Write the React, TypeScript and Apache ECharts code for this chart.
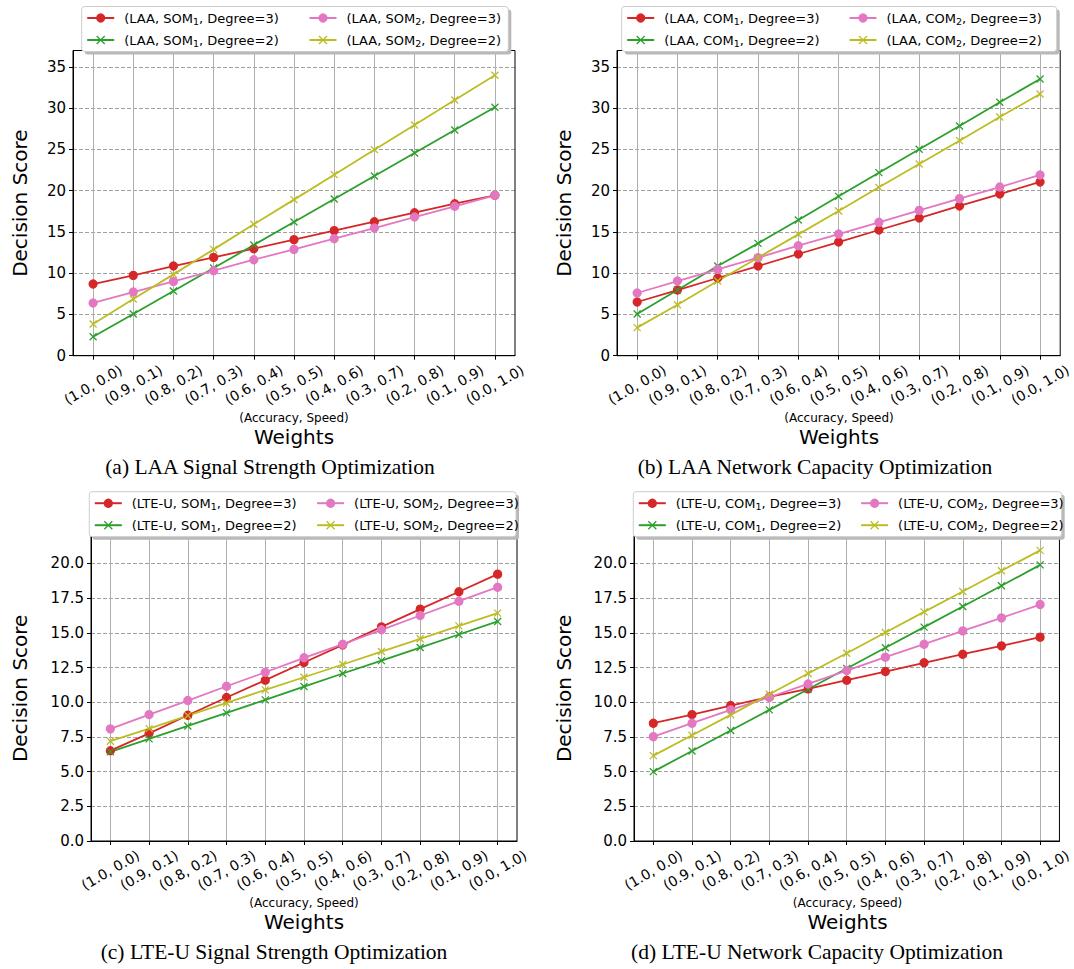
import React, { useEffect, useRef } from 'react';
import * as echarts from 'echarts';

const weights = ['(1.0, 0.0)', '(0.9, 0.1)', '(0.8, 0.2)', '(0.7, 0.3)', '(0.6, 0.4)', '(0.5, 0.5)', '(0.4, 0.6)', '(0.3, 0.7)', '(0.2, 0.8)', '(0.1, 0.9)', '(0.0, 1.0)'];

const ticksLAA = [0, 5, 10, 15, 20, 25, 30, 35];
const ticksLTE = [0, 2.5, 5, 7.5, 10, 12.5, 15, 17.5, 20];

// (a) LAA signal strength
const laaSom1Deg3 = [8.69, 9.74, 10.87, 11.92, 12.97, 14.07, 15.16, 16.25, 17.34, 18.43, 19.44];
const laaSom1Deg2 = [2.3, 5.05, 7.84, 10.63, 13.42, 16.21, 19.0, 21.79, 24.58, 27.36, 30.11];
const laaSom2Deg3 = [6.39, 7.72, 9.01, 10.31, 11.64, 12.89, 14.19, 15.48, 16.81, 18.11, 19.44];
const laaSom2Deg2 = [3.84, 6.87, 9.86, 12.89, 15.93, 18.92, 21.95, 24.98, 27.97, 31.0, 33.99];
// (b) LAA network capacity
const laaCom1Deg3 = [6.51, 7.96, 9.42, 10.87, 12.33, 13.78, 15.24, 16.69, 18.15, 19.6, 21.06];
const laaCom1Deg2 = [5.05, 7.96, 10.87, 13.62, 16.45, 19.32, 22.19, 25.02, 27.85, 30.72, 33.55];
const laaCom2Deg3 = [7.6, 9.05, 10.47, 11.88, 13.34, 14.75, 16.17, 17.62, 19.04, 20.45, 21.91];
const laaCom2Deg2 = [3.4, 6.18, 9.05, 11.88, 14.71, 17.54, 20.41, 23.24, 26.07, 28.94, 31.73];
// (c) LTE-U signal strength
const lteSom1Deg3 = [6.51, 7.76, 9.06, 10.34, 11.59, 12.86, 14.13, 15.43, 16.71, 17.96, 19.23];
const lteSom1Deg2 = [6.42, 7.36, 8.29, 9.23, 10.17, 11.13, 12.07, 13.0, 13.94, 14.88, 15.82];
const lteSom2Deg3 = [8.08, 9.11, 10.12, 11.15, 12.16, 13.2, 14.18, 15.22, 16.25, 17.28, 18.29];
const lteSom2Deg2 = [7.19, 8.1, 9.04, 9.95, 10.89, 11.8, 12.72, 13.65, 14.57, 15.5, 16.42];
// (d) LTE-U network capacity
const lteCom1Deg3 = [8.49, 9.11, 9.76, 10.38, 10.96, 11.59, 12.21, 12.84, 13.46, 14.06, 14.69];
const lteCom1Deg2 = [5.0, 6.49, 7.96, 9.45, 10.94, 12.43, 13.92, 15.41, 16.9, 18.39, 19.9];
const lteCom2Deg3 = [7.52, 8.49, 9.45, 10.36, 11.32, 12.28, 13.25, 14.18, 15.14, 16.08, 17.04];
const lteCom2Deg2 = [6.15, 7.62, 9.09, 10.58, 12.07, 13.53, 15.02, 16.51, 17.98, 19.47, 20.94];

const RED = '#d62728';
const GREEN = '#2ca02c';
const PINK = '#e377c2';
const OLIVE = '#bcbd22';
const SANS = 'DejaVu Sans';
const XMARK = 'path://M0,0L10,10M10,0L0,10';

const panels = [
  {
    tech: 'LAA', metric: 'SOM', data: [laaSom1Deg3, laaSom1Deg2, laaSom2Deg3, laaSom2Deg2],
    yMax: 37, yInterval: 5, ticks: ticksLAA, decimals: 0,
    caption: '(a) LAA Signal Strength Optimization',
    grid: { left: 73, top: 50.5, width: 442, height: 305.2 },
    box: { x: 81.7, y: 6.5, w: 426.6 }, nameX: 20, capX: 270,
  },
  {
    tech: 'LAA', metric: 'COM', data: [laaCom1Deg3, laaCom1Deg2, laaCom2Deg3, laaCom2Deg2],
    yMax: 37, yInterval: 5, ticks: ticksLAA, decimals: 0,
    caption: '(b) LAA Network Capacity Optimization',
    grid: { left: 617, top: 50.5, width: 444, height: 305.2 },
    box: { x: 621.7, y: 6.5, w: 435 }, nameX: 564, capX: 815,
  },
  {
    tech: 'LTE-U', metric: 'SOM', data: [lteSom1Deg3, lteSom1Deg2, lteSom2Deg3, lteSom2Deg2],
    yMax: 22, yInterval: 2.5, ticks: ticksLTE, decimals: 1,
    caption: '(c) LTE-U Signal Strength Optimization',
    grid: { left: 91, top: 535.7, width: 426, height: 305.3 },
    box: { x: 89.3, y: 491.7, w: 426.7 }, nameX: 20, capX: 274,
  },
  {
    tech: 'LTE-U', metric: 'COM', data: [lteCom1Deg3, lteCom1Deg2, lteCom2Deg3, lteCom2Deg2],
    yMax: 22, yInterval: 2.5, ticks: ticksLTE, decimals: 1,
    caption: '(d) LTE-U Network Capacity Optimization',
    grid: { left: 634, top: 535.7, width: 427, height: 305.3 },
    box: { x: 633.3, y: 491.7, w: 428.4 }, nameX: 564, capX: 817,
  },
];

const seriesStyles = [
  { idx: 1, deg: 3, color: RED, symbol: 'circle', size: 8 },
  { idx: 1, deg: 2, color: GREEN, symbol: XMARK, size: 7 },
  { idx: 2, deg: 3, color: PINK, symbol: 'circle', size: 8 },
  { idx: 2, deg: 2, color: OLIVE, symbol: XMARK, size: 7 },
];

function buildOption() {
  const grid: any[] = [];
  const xAxis: any[] = [];
  const yAxis: any[] = [];
  const series: any[] = [];
  const legend: any[] = [];
  const graphic: any[] = [];

  panels.forEach((p, i) => {
    grid.push({ ...p.grid, show: true, borderColor: '#000', borderWidth: 1, backgroundColor: 'transparent', z: 10 });
    xAxis.push({
      type: 'category', gridIndex: i, data: weights, boundaryGap: true,
      axisLine: { show: true, lineStyle: { color: '#000', width: 1 } },
      axisTick: { show: true, alignWithLabel: true, length: 4, lineStyle: { color: '#000' } },
      axisLabel: {
        interval: 0, rotate: 30, align: 'center', verticalAlign: 'middle', margin: 29,
        fontSize: 14, fontFamily: SANS, color: '#000',
      },
      splitLine: { show: true, alignWithLabel: true, lineStyle: { color: '#b0b0b0', width: 1 } },
    });
    const ticks = p.ticks;
    yAxis.push({
      type: 'value', gridIndex: i, min: 0, max: p.yMax, interval: p.yInterval,
      axisLine: { show: true, lineStyle: { color: '#000', width: 1 } },
      axisTick: { show: true, length: 4, lineStyle: { color: '#000' }, customValues: ticks },
      axisLabel: {
        customValues: ticks, margin: 7, fontSize: 15, fontFamily: SANS, color: '#000',
        formatter: (v: number) => (ticks.includes(v) ? v.toFixed(p.decimals) : ''),
      },
      splitLine: { show: true, lineStyle: { color: '#a0a0a0', width: 1, type: [4, 2] } },
    });

    const names: string[] = [];
    seriesStyles.forEach((s, k) => {
      const name = `(${p.tech}, ${p.metric}${s.idx}, Degree=${s.deg})`;
      names.push(name);
      series.push({
        type: 'line', name, xAxisIndex: i, yAxisIndex: i, data: p.data[k],
        symbol: s.symbol, symbolSize: s.size, showSymbol: true,
        lineStyle: { color: s.color, width: 1.8 },
        itemStyle: { color: s.color, borderColor: s.color, borderWidth: 1.3 },
        emphasis: { disabled: true },
      });
    });

    // legend frame with shadow
    graphic.push({
      type: 'rect', z: 50, silent: true,
      shape: { x: p.box.x + 3, y: p.box.y + 3, width: p.box.w, height: 45, r: 3 },
      style: { fill: '#b8b8b8' },
    });
    graphic.push({
      type: 'rect', z: 51, silent: true,
      shape: { x: p.box.x, y: p.box.y, width: p.box.w, height: 45, r: 3 },
      style: { fill: '#ffffff', stroke: '#cccccc', lineWidth: 1 },
    });

    const legendBase = {
      orient: 'vertical', itemGap: 6, itemWidth: 27, itemHeight: 10, padding: 0, z: 60,
      selectedMode: false,
      itemStyle: { borderWidth: 1.3 },
      formatter: (n: string) => n.replace(/(SOM|COM)(\d)/, '$1{sub|$2}'),
      textStyle: {
        fontSize: 13, fontFamily: SANS, color: '#000', lineHeight: 16, padding: [0, 0, 0, 5],
        rich: { sub: { fontSize: 9.5, fontFamily: SANS, color: '#000', lineHeight: 10, verticalAlign: 'bottom' } },
      },
    };
    legend.push({ ...legendBase, left: p.box.x + 4.5, top: p.box.y + 3.5, data: [names[0], names[1]] });
    legend.push({ ...legendBase, left: p.box.x + 226.8, top: p.box.y + 3.5, data: [names[2], names[3]] });

    const cx = p.grid.left + p.grid.width / 2;
    const bottom = p.grid.top + p.grid.height;
    const cy = p.grid.top + p.grid.height / 2;
    graphic.push({
      type: 'text', x: cx, y: bottom + 62, silent: true,
      style: { text: '(Accuracy, Speed)', fontSize: 12, fontFamily: SANS, fill: '#000', align: 'center', verticalAlign: 'middle' },
    });
    graphic.push({
      type: 'text', x: cx, y: bottom + 81, silent: true,
      style: { text: 'Weights', fontSize: 20, fontFamily: SANS, fill: '#000', align: 'center', verticalAlign: 'middle' },
    });
    graphic.push({
      type: 'text', x: p.capX, y: bottom + 111, silent: true,
      style: { text: p.caption, fontSize: 21.5, fontFamily: 'Liberation Serif', fill: '#000', align: 'center', verticalAlign: 'middle' },
    });
    graphic.push({
      type: 'text', x: p.nameX, y: cy, rotation: Math.PI / 2, silent: true,
      style: { text: 'Decision Score', fontSize: 20, fontFamily: SANS, fill: '#000', align: 'center', verticalAlign: 'middle' },
    });
  });

  return {
    animation: false,
    backgroundColor: '#ffffff',
    grid, xAxis, yAxis, series, legend, graphic,
  };
}

export default function App() {
  const ref = useRef<HTMLDivElement>(null);
  useEffect(() => {
    const chart = echarts.init(ref.current!, null, { renderer: 'svg' });
    chart.setOption(buildOption() as any);
    return () => chart.dispose();
  }, []);
  return (
    <div
      ref={ref}
      style={{ position: 'absolute', left: 0, top: 0, width: 1074, height: 969, background: '#fff' }}
    />
  );
}
